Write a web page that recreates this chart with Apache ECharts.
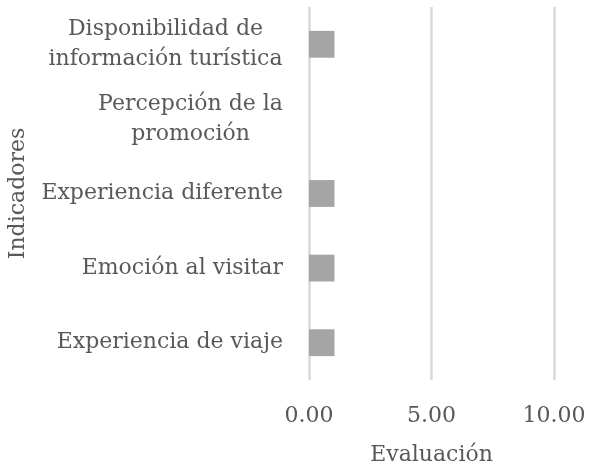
<!DOCTYPE html>
<html>
<head>
<meta charset="utf-8">
<script src="https://cdn.jsdelivr.net/npm/echarts@6/dist/echarts.min.js"></script>
<style>
  html, body { margin: 0; padding: 0; background: #fff; }
  #chart { width: 589px; height: 471px; }
</style>
</head>
<body>
<div id="chart"></div>
<script>
// indicadores, de abajo hacia arriba
const indicadores = [
  'Experiencia de viaje',
  'Emoción al visitar',
  'Experiencia diferente',
  'Percepción de la\npromoción',
  'Disponibilidad de\ninformación turística'
];
const evaluacion = [1.04, 1.04, 1.04, 0, 1.04];
const ejeMin = 0;
const ejeMax = 10;
const ejePaso = 5;

const FONT = 'DejaVu Serif';
const GRIS = '#595959';
const TAM = 22;

// ancho de la línea más larga de cada etiqueta, para centrar las líneas
// dentro de un bloque alineado a la derecha (como en Excel)
const ctx = document.createElement('canvas').getContext('2d');
ctx.font = TAM + 'px "' + FONT + '"';
const rich = {};
indicadores.forEach((txt, i) => {
  const w = Math.max.apply(null, txt.split('\n').map(s => ctx.measureText(s).width));
  rich['c' + i] = {
    width: Math.ceil(w),
    align: 'center',
    color: GRIS,
    fontSize: TAM,
    fontFamily: FONT,
    lineHeight: 30
  };
});

const myChart = echarts.init(document.getElementById('chart'));

const option = {
  animation: false,
  grid: { left: 309, right: 35, top: 7, bottom: 90 },
  xAxis: {
    type: 'value',
    min: ejeMin,
    max: ejeMax,
    interval: ejePaso,
    name: 'Evaluación',
    nameLocation: 'middle',
    nameGap: 64,
    nameTextStyle: { color: GRIS, fontSize: TAM, fontFamily: FONT },
    axisLine: { show: false },
    axisTick: { show: false },
    axisLabel: {
      color: GRIS,
      fontSize: TAM,
      fontFamily: FONT,
      margin: 25,
      formatter: v => v.toFixed(2)
    },
    splitLine: { lineStyle: { color: '#d9d9d9', width: 2.5 } }
  },
  yAxis: {
    type: 'category',
    data: indicadores,
    name: 'Indicadores',
    nameLocation: 'middle',
    nameGap: 280,
    nameTextStyle: { color: GRIS, fontSize: TAM, fontFamily: FONT },
    axisLine: { show: false },
    axisTick: { show: false },
    axisLabel: {
      color: GRIS,
      fontSize: TAM,
      fontFamily: FONT,
      margin: 26,
      lineHeight: 30,
      formatter: function(v, idx) {
        if (v.indexOf('\n') < 0) return v;
        return v.split('\n').map(s => '{c' + idx + '|' + s + '}').join('\n');
      },
      rich: rich
    }
  },
  series: [
    {
      type: 'bar',
      data: evaluacion,
      barWidth: '36%',
      itemStyle: { color: '#a5a5a5' }
    }
  ]
};

myChart.setOption(option);
</script>
</body>
</html>
